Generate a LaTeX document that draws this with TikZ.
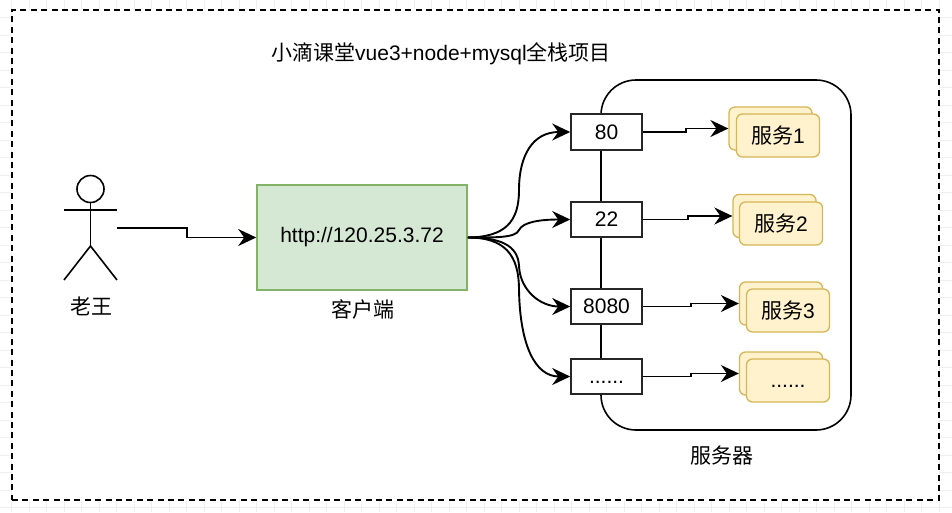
\documentclass[tikz,border=0pt]{standalone}
\usepackage{fontspec}
\setmainfont{Liberation Sans}
\newfontfamily\cjk{Noto Sans CJK SC}
\usetikzlibrary{arrows.meta, calc}

\begin{document}
\begin{tikzpicture}
		[x=1pt,y=-1pt,line cap=butt,
		%Styles
		grid line/.style={line width=.7pt,draw=gridcolor},
		outer frame/.style={draw,fill=white,line width=1.6pt,dash pattern=on 6pt off 4.4pt,minimum width=927pt,minimum height=490pt},
		server box/.style={draw,line width=1.6pt,rounded corners=35pt,minimum width=250pt,minimum height=350pt},
		client box/.style={draw=clientline,fill=clientfill,line width=1.6pt,minimum width=210pt,minimum height=105pt},
		port box/.style={draw=black!85,fill=white,line width=1.6pt,minimum width=71pt,minimum height=35.5pt},
		service box/.style={draw=serviceline,fill=servicefill,line width=1.3pt,rounded corners=6pt,minimum width=83pt,minimum height=43pt},
		actor line/.style={line width=1.6pt},
		link/.style={line width=1.9pt,-{Stealth[length=18pt,width=17pt,inset=6pt]}},
		elbow/.style={to path={-- ($(\tikztostart)!.5!(\tikztostart -| \tikztotarget)$) |- (\tikztotarget)}},
		label text/.style={inner sep=0pt}
		]
		
		%Colors
		\definecolor{gridcolor}{HTML}{EFEFEF}
		\definecolor{clientfill}{HTML}{D5E8D4}
		\definecolor{clientline}{HTML}{82B366}
		\definecolor{servicefill}{HTML}{FFF2CC}
		\definecolor{serviceline}{HTML}{D6B656}
		\fontsize{21}{25}\selectfont
		
		\useasboundingbox (0,0) rectangle (952,512);
		
		%Background grid
		\foreach \k in {0,...,53}
			\draw[grid line] ({11.5+17.5*\k},0) -- ({11.5+17.5*\k},512);
		\foreach \k in {1,...,29}
			\draw[grid line] (0,{17.5*\k}) -- (952,{17.5*\k});
		
		%The graphic
		\node[outer frame] (frame) at (475.5,255) {};
		\node[label text] (title) at (441,54) {{\cjk 小滴课堂}vue3+node+mysql{\cjk 全栈项目}};
		
		\node[server box] (server) at (726,255) {};
		\node[label text] (serverlabel) at (722,456) {\cjk 服务器};
		
		%Actor
		\node[circle,draw,actor line,minimum size=27pt,inner sep=0pt,outer sep=0pt] (head) at (90.5,189) {};
		\coordinate (armL) at (64,210);
		\coordinate (armR) at (117,210);
		\coordinate (hip) at (90.5,246);
		\coordinate (footL) at (64,280);
		\coordinate (footR) at (117,280);
		\coordinate (side) at (117,228);
		\draw[actor line] (head) -- (hip);
		\draw[actor line] (armL) -- (armR);
		\draw[actor line] (footL) -- (hip) -- (footR);
		\node[label text] (actorlabel) at (91,306) {\cjk 老王};
		
		\node[client box] (client) at (362,237.5) {http://120.25.3.72};
		\node[label text] (clientlabel) at (363,309) {\cjk 客户端};
		
		\node[port box] (P1) at (606.5,132) {80};
		\node[port box] (P2) at (606.5,219.5) {22};
		\node[port box] (P3) at (606.5,306.5) {8080};
		\node[port box] (P4) at (606.5,376.5) {\vphantom{80}......};
		
		\node[service box] (B1) at (770.5,128.5) {};
		\node[service box] (S1) at (778,135.5) {\cjk 服务{\rmfamily 1}};
		\node[service box] (B2) at (774.5,216) {};
		\node[service box] (S2) at (781,223.5) {\cjk 服务{\rmfamily 2}};
		\node[service box] (B3) at (781,303.5) {};
		\node[service box] (S3) at (788,310.5) {\cjk 服务{\rmfamily 3}};
		\node[service box] (B4) at (781,373.5) {};
		\node[service box] (S4) at (788,380.5) {\vphantom{80}......};
		
		%Connectors
		\draw[link] (side) to[elbow] (client.west);
		
		\draw[link] (client.east) .. controls (505,237) and (519,222) .. (519,190) .. controls (519,155) and (533,132) .. (P1.west);
		\draw[link] (client.east) .. controls (495,237.5) and (516,238) .. (519,230) .. controls (523,222) and (540,219.5) .. (P2.west);
		\draw[link] (client.east) .. controls (500,237.5) and (518,245) .. (519,266) .. controls (520,290) and (540,306.5) .. (P3.west);
		\draw[link] (client.east) .. controls (505,237.5) and (519,255) .. (519,290) .. controls (520,345) and (535,376.5) .. (P4.west);
		
		\foreach \i in {1,2,3,4}
			\draw[link] (P\i.east) to[elbow] (B\i.west);
	\end{tikzpicture}
\end{document}
